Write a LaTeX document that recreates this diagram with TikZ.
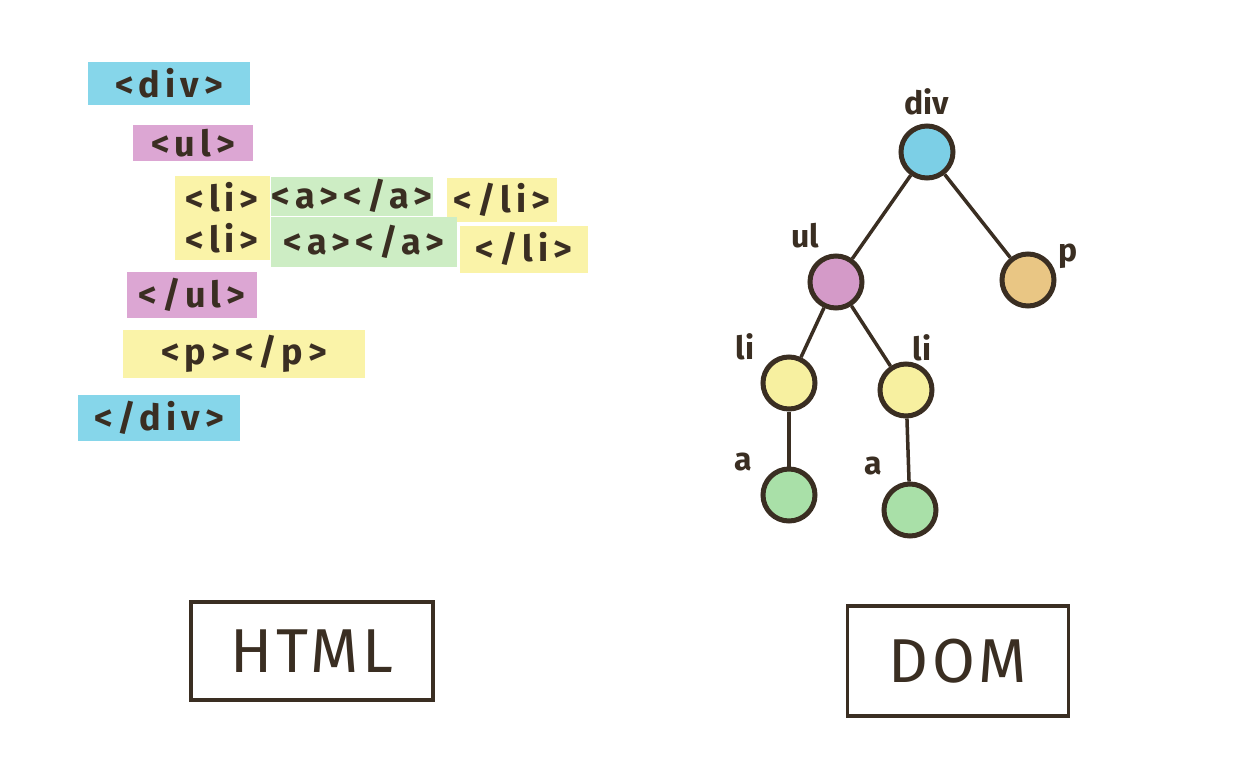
\documentclass[tikz,border=0pt]{standalone}
\usepackage{fontspec}
\setmainfont{Fira Sans}
\newfontfamily\codefont[LetterSpace=14]{Fira Sans}
\newfontfamily\capfont[LetterSpace=6]{Fira Sans}
\definecolor{ink}{HTML}{3A2E22}
\definecolor{hlcyan}{HTML}{86D6EA}
\definecolor{hlmagenta}{HTML}{DCA6D3}
\definecolor{hlyellow}{HTML}{FAF3A8}
\definecolor{hlgreen}{HTML}{CDEDC4}
\definecolor{hlorange}{HTML}{E9C684}
\definecolor{dotcyan}{HTML}{7CCFE6}
\definecolor{dotmagenta}{HTML}{D49AC8}
\definecolor{dotyellow}{HTML}{F7F0A0}
\definecolor{dotgreen}{HTML}{A9E0A8}
\begin{document}
\begin{tikzpicture}[x=1pt,y=-1pt,
  hl/.style={fill=#1, inner sep=0pt, text=ink, font=\codefont\bfseries\fontsize{36}{36}\selectfont, anchor=center},
  dot/.style={circle, draw=ink, line width=5pt, fill=#1, minimum size=52pt, inner sep=0pt},
  edge/.style={draw=ink, line width=3.5pt},
  tag/.style={text=ink, font=\bfseries\fontsize{32}{32}\selectfont},
  frame/.style={draw=ink, line width=3.5pt, inner sep=0pt, text=ink, font=\capfont\fontsize{62}{62}\selectfont}]
\useasboundingbox[fill=white] (0,0) rectangle (1254,780);

% HTML source, one highlighted tag per marker stroke
\node[hl=hlcyan, minimum width=162, minimum height=43] (odiv) at (169,83) {<div>};
\node[hl=hlmagenta, minimum width=120, minimum height=36] (oul) at (193,143) {<ul>};
\node[hl=hlyellow, minimum width=95, minimum height=42] (oli1) at (222,197) {<li>};
\node[hl=hlgreen, minimum width=162, minimum height=39] (a1) at (352,196) {<a></a>};
\node[hl=hlyellow, minimum width=110, minimum height=44] (cli1) at (502,200) {</li>};
\node[hl=hlyellow, minimum width=95, minimum height=44] (oli2) at (222,238) {<li>};
\node[hl=hlgreen, minimum width=186, minimum height=50] (a2) at (364,242) {<a></a>};
\node[hl=hlyellow, minimum width=128, minimum height=47] (cli2) at (524,249) {</li>};
\node[hl=hlmagenta, minimum width=130, minimum height=46] (cul) at (192,295) {</ul>};
\node[hl=hlyellow, minimum width=242, minimum height=48] (pp) at (244,354) {<p></p>};
\node[hl=hlcyan, minimum width=162, minimum height=46] (cdiv) at (159,418) {</div>};

% DOM tree
\node[dot=dotcyan] (ndiv) at (927,152) {};
\node[dot=dotmagenta] (nul) at (836,282) {};
\node[dot=hlorange] (np) at (1028,280) {};
\node[dot=dotyellow] (nli1) at (789,383) {};
\node[dot=dotyellow] (nli2) at (906,390) {};
\node[dot=dotgreen] (na1) at (789,495) {};
\node[dot=dotgreen] (na2) at (910,510) {};

\draw[edge] (ndiv) -- (nul);
\draw[edge] (ndiv) -- (np);
\draw[edge] (nul) -- (nli1);
\draw[edge] (nul) -- (nli2);
\draw[edge] (nli1) -- (na1);
\draw[edge] (nli2) -- (na2);

\node[tag] (tdiv) at (927,102) {div};
\node[tag] (tul) at (805,236) {ul};
\node[tag] (tp) at (1068,256) {p};
\node[tag] (tli1) at (745,347) {li};
\node[tag] (tli2) at (922,348) {li};
\node[tag] (ta1) at (743,462) {a};
\node[tag] (ta2) at (873,466) {a};

% captions
\node[frame, minimum width=242, minimum height=98] (html) at (312,651) {HTML};
\node[frame, minimum width=221, minimum height=110] (dom) at (958,661) {DOM};
\end{tikzpicture}
\end{document}
